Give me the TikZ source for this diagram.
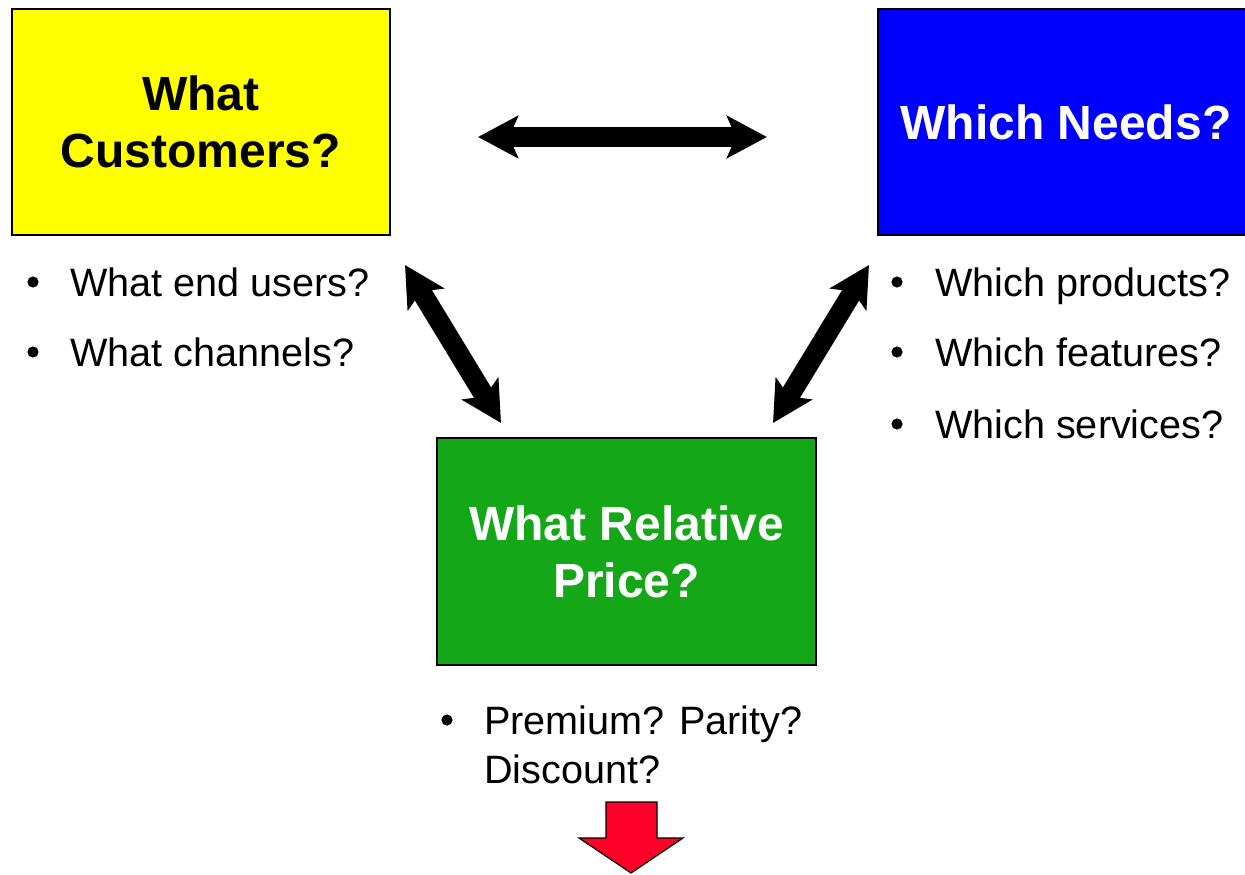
\documentclass[tikz,border=0pt]{standalone}
\usepackage{fontspec}
\setmainfont{Liberation Sans}
\usetikzlibrary{arrows.meta}

\tikzset{
  titlebox/.style={draw=black,line width=2pt,inner sep=0pt,align=center,
    font=\fontsize{48}{57}\selectfont\bfseries},
  itemtext/.style={anchor=base west,inner sep=0pt,
    font=\fontsize{39.6}{48}\selectfont},
  twoway/.style={line width=20pt,
    {Stealth[length=40pt,width=42pt,inset=9pt]}-{Stealth[length=40pt,width=42pt,inset=9pt]}},
}

\begin{document}
\begin{tikzpicture}[x=1pt,y=-1pt]
\definecolor{boxYellow}{RGB}{255,255,0}
\definecolor{boxBlue}{RGB}{0,0,255}
\definecolor{boxGreen}{RGB}{20,168,25}
\definecolor{arrowRed}{RGB}{255,0,40}
\path[use as bounding box,fill=white] (0,0) rectangle (1245,875);
\clip (0,0) rectangle (1245,875);

% the three questions
\node[titlebox,fill=boxYellow,minimum width=378pt,minimum height=226pt] (customers) at (201,122) {What\\Customers?};
\node[titlebox,fill=boxBlue,text=white,minimum width=376pt,minimum height=226pt] (needs) at (1066,122) {Which Needs?};
\node[titlebox,fill=boxGreen,text=white,minimum width=379pt,minimum height=227pt] (price) at (626.5,551.5) {What Relative\\Price?};

% bullet lists
\node[itemtext] (users) at (70,296) {What end users?};
\node[itemtext] (channels) at (70,366) {What channels?};
\node[itemtext] (products) at (935,296) {Which products?};
\node[itemtext] (features) at (935,366) {Which features?};
\node[itemtext] (services) at (935,438) {Which services?};
\node[itemtext] (premium) at (484,734) {Premium? Parity?};
\node[itemtext] (discount) at (484,783) {Discount?};
\foreach \bx/\by in {33/282, 33/352, 897/282, 897/352, 897/424, 447/720}
  \fill (\bx,\by) circle (5.6);

% connectors
\coordinate (top l) at (478,137);
\coordinate (top r) at (767,137);
\coordinate (left a) at (405,265);
\coordinate (left b) at (501,423);
\coordinate (right a) at (869,265);
\coordinate (right b) at (773,423);
\draw[twoway] (top l) -- (top r);
\draw[twoway] (left a) -- (left b);
\draw[twoway] (right a) -- (right b);

% outcome arrow
\path[fill=arrowRed,draw=black,line width=1.2pt,line join=miter]
  (606,802) -- (657,802) -- (657,838) -- (683,838) -- (631,873) -- (579,838) -- (606,838) -- cycle;
\end{tikzpicture}
\end{document}
